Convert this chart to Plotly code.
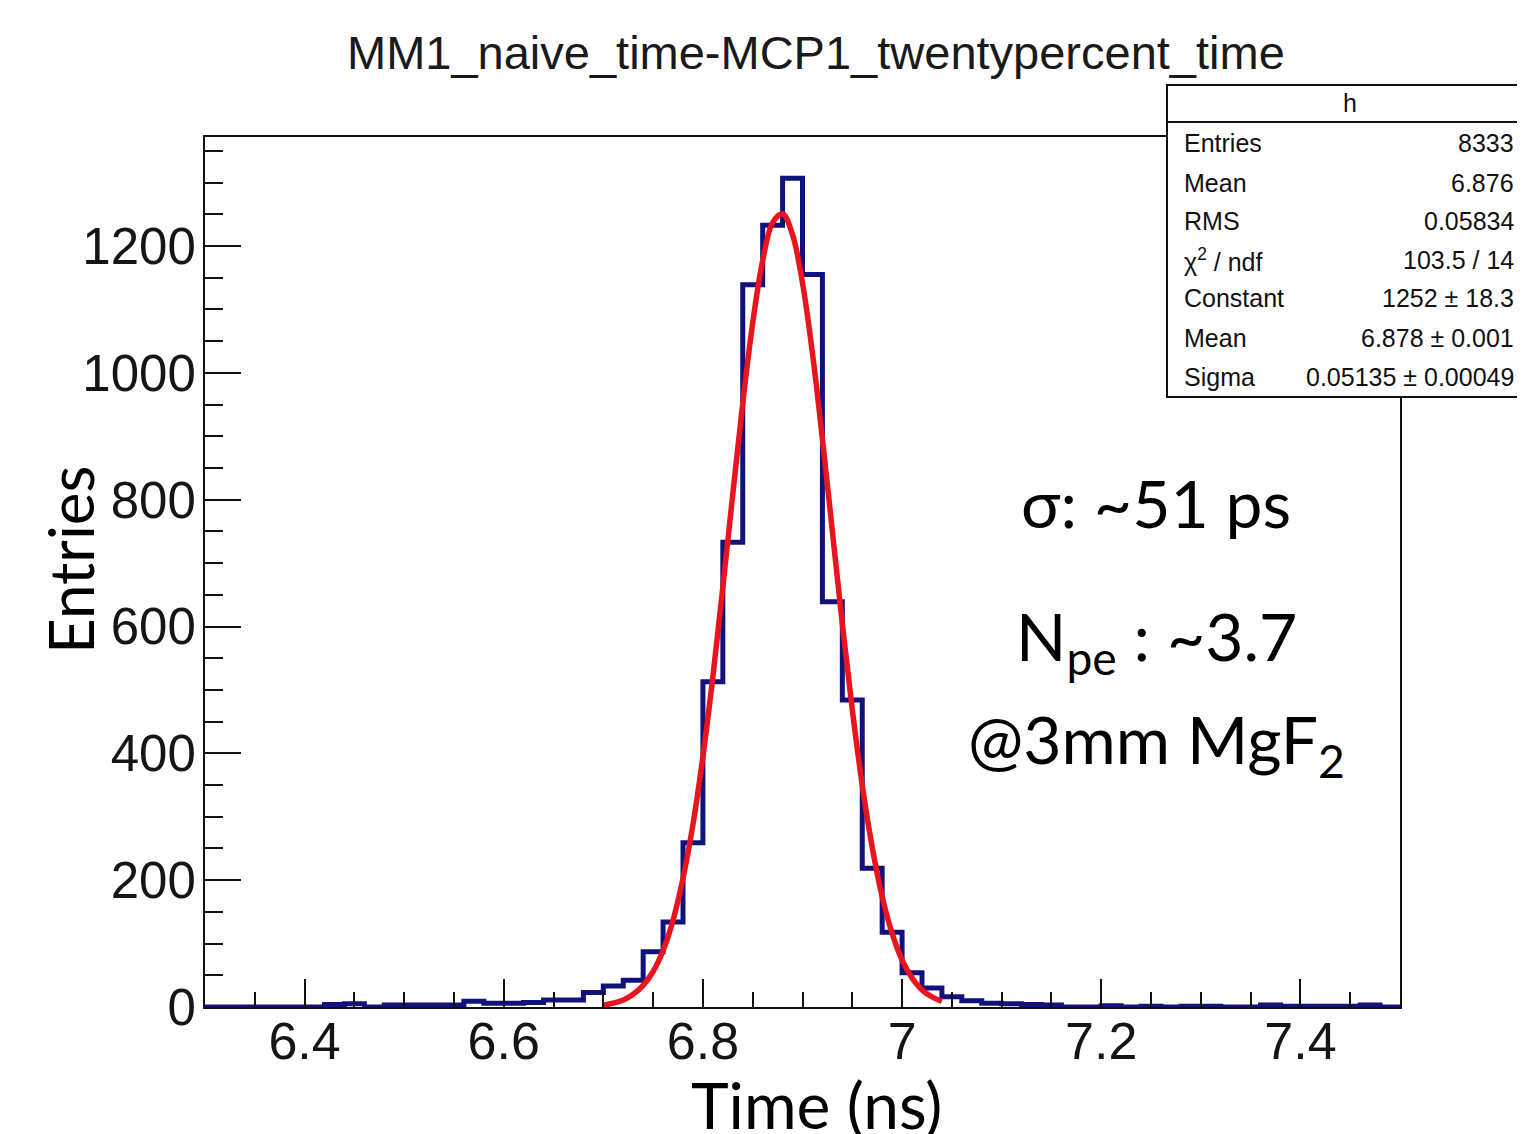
import plotly.graph_objects as go

# ---------------- data ----------------
bin_start = 6.30
bin_width = 0.02
counts = [0, 0, 0, 0, 0, 0, 4, 5, 0, 3,
          3, 3, 3, 9, 6, 6, 7, 11, 11, 23,
          33, 42, 87, 134, 259, 513, 733, 1139, 1233, 1307,
          1155, 639, 484, 219, 118, 54, 30, 16, 10, 6,
          5, 4, 3, 0, 0, 2, 0, 1, 0, 1,
          1, 0, 0, 3, 1, 1, 1, 1, 3, 0]

# fit curve (x in ns, entries)
fit_x = [6.70, 6.71, 6.72, 6.73, 6.74, 6.75, 6.76, 6.77, 6.78, 6.79,
         6.80, 6.81, 6.82, 6.83, 6.84, 6.85, 6.86, 6.87, 6.88, 6.89,
         6.90, 6.91, 6.92, 6.93, 6.94, 6.95, 6.96, 6.97, 6.98, 6.99,
         7.00, 7.01, 7.02, 7.03, 7.04]
fit_y = [3, 6, 11, 20, 34, 56, 89, 137, 203, 288,
         395, 521, 662, 809, 952, 1079, 1177, 1237, 1251, 1218,
         1142, 1031, 896, 750, 604, 469, 350, 252, 174, 116,
         74, 46, 27, 16, 9]

x_tickvals = [6.4, 6.6, 6.8, 7.0, 7.2, 7.4]
x_ticktext = ["6.4", "6.6", "6.8", "7", "7.2", "7.4"]
y_tickvals = [0, 200, 400, 600, 800, 1000, 1200]
y_ticktext = ["0", "200", "400", "600", "800", "1000", "1200"]

stats_labels = ["Entries", "Mean", "RMS", "χ<sup>2</sup> / ndf", "Constant", "Mean", "Sigma"]
stats_values = ["8333", "6.876", "0.05834", "103.5 / 14", "1252 ± 18.3", "6.878 ± 0.001", "0.05135 ± 0.00049"]

title_text = "MM1_naive_time-MCP1_twentypercent_time"
notes = ["σ: ~51 ps", "N<sub>pe</sub> : ~3.7", "@3mm MgF<sub>2</sub>"]

# ---------------- figure ----------------
# page body has an 8px default margin; compensate so the figure fills the window
OFF = 8
W, H = 1525 - OFF, 1134 - OFF
L_REF, R, T_REF, B = 205, 125, 137, 127
L, T = L_REF - OFF, T_REF - OFF
PW, PH = W - L - R, H - T - B


def px(xp):
    return (xp - L_REF) / PW


def py(yp):
    return (T_REF + PH - yp) / PH


edges = [bin_start + bin_width * i for i in range(len(counts) + 1)]
hist_y = counts + [counts[-1]]

fig = go.Figure()
fig.add_trace(go.Scatter(x=edges, y=hist_y, mode="lines", line_shape="hv",
                         line=dict(color="#12127e", width=5), hoverinfo="skip",
                         showlegend=False))
fig.add_trace(go.Scatter(x=fit_x, y=fit_y, mode="lines", line_shape="spline",
                         line=dict(color="#e8141e", width=5.5), hoverinfo="skip",
                         showlegend=False))

helv = "Liberation Sans, Arial, Helvetica, sans-serif"
calib = "Lato, Noto Sans, sans-serif"

fig.update_layout(
    width=W, height=H,
    margin=dict(l=L, r=R, t=T, b=B, autoexpand=False),
    paper_bgcolor="white", plot_bgcolor="white",
    showlegend=False,
    xaxis=dict(range=[6.3, 7.5], tickmode="array", tickvals=x_tickvals, ticktext=x_ticktext,
               ticks="inside", ticklen=28, tickwidth=2, tickcolor="#111",
               minor=dict(dtick=0.05, tick0=6.3, ticks="inside", ticklen=15, tickwidth=2, tickcolor="#111"),
               showline=True, linecolor="#111", linewidth=2, mirror=True,
               showgrid=False, zeroline=False, ticklabelstandoff=-12,
               tickfont=dict(family=helv, size=52, color="#151515")),
    yaxis=dict(range=[0, 1372], tickmode="array", tickvals=y_tickvals, ticktext=y_ticktext,
               ticks="inside", ticklen=36, tickwidth=2, tickcolor="#111",
               minor=dict(dtick=50, tick0=0, ticks="inside", ticklen=18, tickwidth=2, tickcolor="#111"),
               showline=True, linecolor="#111", linewidth=2, mirror=True,
               showgrid=False, zeroline=False, ticklabelstandoff=-3,
               tickfont=dict(family=helv, size=51, color="#151515")),
)

ann = []
# chart title
ann.append(dict(text=title_text, x=px(816), y=py(52), xref="paper", yref="paper",
                xanchor="center", yanchor="middle", showarrow=False,
                font=dict(family=helv, size=47, color="#1a1a1a")))
# axis titles
ann.append(dict(text="Time (ns)", x=px(816), y=py(1104), xref="paper", yref="paper",
                xanchor="center", yanchor="middle", showarrow=False,
                font=dict(family=calib, size=64, color="#000")))
ann.append(dict(text="Entries", x=px(70), y=py(560), xref="paper", yref="paper",
                xanchor="center", yanchor="middle", showarrow=False, textangle=-90,
                font=dict(family=calib, size=62, color="#000")))
# notes
for txt, yc in zip(notes, [502, 640, 743]):
    ann.append(dict(text=txt, x=px(1156), y=py(yc), xref="paper", yref="paper",
                    xanchor="center", yanchor="middle", showarrow=False,
                    font=dict(family=calib, size=66, color="#000")))

# stats box
bx0, bx1, by0, by1, bhead = 1167, 1545, 397, 85, 122
shapes = [
    dict(type="rect", xref="paper", yref="paper", x0=px(bx0), x1=px(bx1), y0=py(by0), y1=py(by1),
         line=dict(color="#111", width=2), fillcolor="white", layer="above"),
    dict(type="line", xref="paper", yref="paper", x0=px(bx0), x1=px(bx1), y0=py(bhead), y1=py(bhead),
         line=dict(color="#111", width=2), layer="above"),
]
ann.append(dict(text="h", x=px(1350), y=py(103), xref="paper", yref="paper",
                xanchor="center", yanchor="middle", showarrow=False,
                font=dict(family=helv, size=25, color="#111")))
row_y = [143, 183, 221, 260, 298, 338, 377]
for lab, val, yc in zip(stats_labels, stats_values, row_y):
    ann.append(dict(text=lab, x=px(1182), y=py(yc), xref="paper", yref="paper",
                    xanchor="left", yanchor="middle", showarrow=False,
                    font=dict(family=helv, size=25, color="#111")))
    ann.append(dict(text=val, x=px(1516), y=py(yc), xref="paper", yref="paper",
                    xanchor="right", yanchor="middle", showarrow=False,
                    font=dict(family=helv, size=25, color="#111")))

fig.update_layout(annotations=ann, shapes=shapes)
fig.write_html("out.html")
